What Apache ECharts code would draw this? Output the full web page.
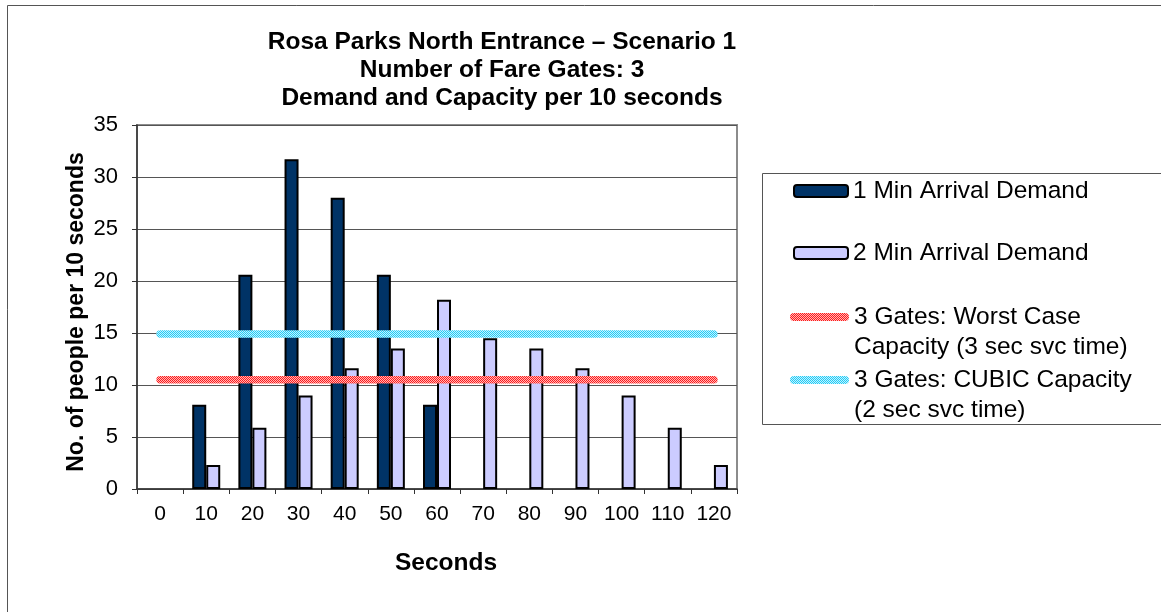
<!DOCTYPE html>
<html>
<head>
<meta charset="utf-8">
<script src="https://cdn.jsdelivr.net/npm/echarts@6/dist/echarts.min.js"></script>
<style>
html,body{margin:0;padding:0;background:#fff;}
#chart{width:1161px;height:612px;}
</style>
</head>
<body>
<div id="chart"></div>
<script>
// ---- data ----
var categories = ['0','10','20','30','40','50','60','70','80','90','100','110','120'];
var oneMinDemand = [null, 8.1, 20.6, 31.7, 28.0, 20.6, 8.1, null, null, null, null, null, null];
var twoMinDemand = [null, 2.3, 5.9, 9.0, 11.6, 13.5, 18.2, 14.5, 13.5, 11.6, 9.0, 5.9, 2.3];
var worstCaseCapacity = [10.5, 10.5, 10.5, 10.5, 10.5, 10.5, 10.5, 10.5, 10.5, 10.5, 10.5, 10.5, 10.5];
var cubicCapacity = [14.9, 14.9, 14.9, 14.9, 14.9, 14.9, 14.9, 14.9, 14.9, 14.9, 14.9, 14.9, 14.9];
var seriesNames = ['1 Min Arrival Demand', '2 Min Arrival Demand',
  '3 Gates: Worst Case\nCapacity (3 sec svc time)', '3 Gates: CUBIC Capacity\n(2 sec svc time)'];
var titleLines = ['Rosa Parks North Entrance \u2013 Scenario 1', 'Number of Fare Gates: 3', 'Demand and Capacity per 10 seconds'];
var yAxisTitle = 'No. of people per 10 seconds';
var xAxisTitle = 'Seconds';

var FONT = '"Liberation Sans", Arial, Helvetica, sans-serif';

function checker(c1, c2) {
  var cv = document.createElement('canvas');
  cv.width = 2; cv.height = 2;
  var ctx = cv.getContext('2d');
  ctx.fillStyle = c2; ctx.fillRect(0, 0, 2, 2);
  ctx.fillStyle = c1; ctx.fillRect(0, 0, 1, 1); ctx.fillRect(1, 1, 1, 1);
  return { image: cv, repeat: 'repeat' };
}
var redPattern = checker('#ff1a1a', '#ffb8b8');
var bluePattern = checker('#22ccf5', '#c4f1ff');

// legend swatch for the line series: visible band at top, invisible extent below
// so that the swatch sits beside the first line of a two-line label
var lineIcon = 'path://M4,0 L55,0 A4,4 0 0 1 55,8 L4,8 A4,4 0 0 1 4,0 Z M0,4 L0,4 M59,38 L59,38 M0,38 L0,38';

var chart = echarts.init(document.getElementById('chart'), null, {renderer: 'canvas'});

function legendItem(name, top, isLine, pattern) {
  var d = { name: name };
  if (isLine) {
    d.icon = lineIcon;
    d.itemStyle = { color: pattern, borderWidth: 0 };
  }
  return {
    data: [d],
    orient: 'vertical',
    left: isLine ? 790 : 793,
    top: top,
    padding: 0,
    itemGap: 0,
    itemWidth: isLine ? 59 : 54,
    itemHeight: isLine ? 38 : 12,
    textStyle: { fontFamily: FONT, fontSize: 24.5, color: '#000', lineHeight: 30 }
  };
}

var option = {
  backgroundColor: '#fff',
  animation: false,
  title: {
    text: titleLines.join('\n'),
    left: 502,
    top: 28,
    textAlign: 'center',
    padding: 0,
    textStyle: { fontFamily: FONT, fontSize: 24.5, fontWeight: 'bold', color: '#000', lineHeight: 28 }
  },
  legend: [
    legendItem(seriesNames[0], 176, false),
    legendItem(seriesNames[1], 238, false),
    legendItem(seriesNames[2], 302, true, redPattern),
    legendItem(seriesNames[3], 365, true, bluePattern)
  ],
  grid: {
    left: 137, top: 125, right: 424, bottom: 123,
    show: true, borderColor: '#8c8c8c', borderWidth: 2, backgroundColor: '#fff'
  },
  xAxis: {
    type: 'category',
    data: categories,
    boundaryGap: true,
    axisLine: { show: true, lineStyle: { color: '#333', width: 1.5 } },
    axisTick: { show: true, length: 5, lineStyle: { color: '#333' } },
    axisLabel: { fontFamily: FONT, fontSize: 21, color: '#000', margin: 15, interval: 0 },
    splitLine: { show: false }
  },
  yAxis: {
    type: 'value',
    min: 0, max: 35, interval: 5,
    axisLine: { show: true, lineStyle: { color: '#333', width: 1.5 } },
    axisTick: { show: true, length: 5, lineStyle: { color: '#333' } },
    axisLabel: { fontFamily: FONT, fontSize: 22, color: '#000', margin: 19 },
    splitLine: { show: true, lineStyle: { color: '#555', width: 1 } }
  },
  graphic: [
    { type: 'rect', silent: true, z: -10,
      shape: { x: 7.5, y: 5.5, width: 1300, height: 700 },
      style: { fill: null, stroke: '#555', lineWidth: 1 } },
    { type: 'rect', silent: true,
      shape: { x: 762.5, y: 173.5, width: 600, height: 251 },
      style: { fill: null, stroke: '#555', lineWidth: 1 } },
    { type: 'text', silent: true,
      x: 77, y: 312, rotation: Math.PI / 2,
      style: { text: yAxisTitle, fontFamily: FONT, fontSize: 23, fontWeight: 'bold', fill: '#000',
        textAlign: 'center', textVerticalAlign: 'middle' } },
    { type: 'text', silent: true,
      x: 446, y: 563,
      style: { text: xAxisTitle, fontFamily: FONT, fontSize: 24.5, fontWeight: 'bold', fill: '#000',
        textAlign: 'center', textVerticalAlign: 'middle' } }
  ],
  series: [
    { name: seriesNames[0], type: 'bar', data: oneMinDemand, barWidth: 14, barGap: '0%',
      itemStyle: { color: '#003366', borderColor: '#000', borderWidth: 2 }, z: 2 },
    { name: seriesNames[1], type: 'bar', data: twoMinDemand, barWidth: 14, barGap: '0%',
      itemStyle: { color: '#ccccff', borderColor: '#000', borderWidth: 2 }, z: 2 },
    { name: seriesNames[2], type: 'line', data: worstCaseCapacity, symbol: 'none', z: 5,
      itemStyle: { color: '#ff6a6a' },
      lineStyle: { color: redPattern, width: 7.5, cap: 'round' } },
    { name: seriesNames[3], type: 'line', data: cubicCapacity, symbol: 'none', z: 5,
      itemStyle: { color: '#6adcf8' },
      lineStyle: { color: bluePattern, width: 7.5, cap: 'round' } }
  ]
};
chart.setOption(option);
</script>
</body>
</html>
